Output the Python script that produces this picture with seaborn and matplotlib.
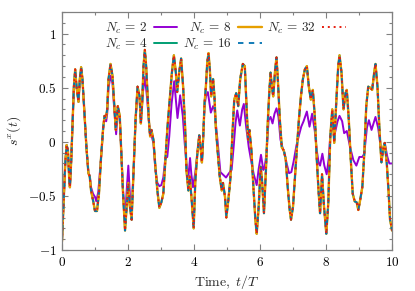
import numpy as np
import pandas as pd
import matplotlib
matplotlib.use("Agg")
import matplotlib.pyplot as plt
import seaborn as sns
from matplotlib.ticker import MultipleLocator, FuncFormatter

# s^x(t), N_c = 4 ... 32 lie on top of each other
t_conv = [0.00, 0.06, 0.10, 0.14, 0.18, 0.22, 0.24, 0.28, 0.32, 0.36,
          0.40, 0.44, 0.50, 0.54, 0.58, 0.62, 0.68, 0.74, 0.80, 0.84,
          0.88, 0.94, 1.00, 1.06, 1.12, 1.18, 1.25, 1.29, 1.33, 1.37,
          1.41, 1.47, 1.53, 1.59, 1.63, 1.69, 1.75, 1.79, 1.85, 1.91,
          1.97, 2.01, 2.05, 2.11, 2.17, 2.23, 2.29, 2.35, 2.39, 2.43,
          2.47, 2.51, 2.55, 2.59, 2.63, 2.67, 2.71, 2.77, 2.83, 2.89,
          2.95, 3.01, 3.07, 3.13, 3.19, 3.27, 3.33, 3.39, 3.45, 3.49,
          3.55, 3.61, 3.67, 3.73, 3.77, 3.83, 3.87, 3.93, 3.99, 4.04,
          4.10, 4.16, 4.20, 4.24, 4.28, 4.32, 4.36, 4.40, 4.44, 4.48,
          4.52, 4.58, 4.62, 4.66, 4.72, 4.78, 4.84, 4.88, 4.94, 4.98,
          5.04, 5.10, 5.16, 5.22, 5.28, 5.34, 5.40, 5.48, 5.54, 5.60,
          5.64, 5.68, 5.74, 5.80, 5.86, 5.90, 5.96, 6.02, 6.06, 6.12,
          6.18, 6.24, 6.28, 6.32, 6.36, 6.40, 6.46, 6.50, 6.54, 6.60,
          6.66, 6.72, 6.78, 6.84, 6.90, 6.94, 7.00, 7.06, 7.12, 7.18,
          7.24, 7.30, 7.36, 7.42, 7.48, 7.54, 7.60, 7.66, 7.72, 7.78,
          7.82, 7.88, 7.94, 8.01, 8.07, 8.13, 8.19, 8.25, 8.31, 8.37,
          8.41, 8.47, 8.53, 8.59, 8.63, 8.69, 8.75, 8.81, 8.87, 8.93,
          8.98, 9.04, 9.10, 9.16, 9.22, 9.28, 9.34, 9.40, 9.46, 9.50,
          9.56, 9.62, 9.68, 9.74, 9.78, 9.84, 9.90, 9.94, 9.98, 10.00]
s_conv = [-0.92, -0.48, -0.19, -0.03, -0.08, -0.35, -0.42, -0.17, 0.17, 0.51,
          0.67, 0.51, 0.37, 0.58, 0.69, 0.58, 0.27, -0.05, -0.29, -0.32,
          -0.45, -0.54, -0.64, -0.64, -0.48, -0.16, 0.14, 0.24, 0.22, 0.30,
          0.58, 0.72, 0.61, 0.30, 0.11, 0.33, 0.24, -0.05, -0.48, -0.82,
          -0.55, -0.38, -0.58, -0.72, -0.26, 0.21, 0.51, 0.42, 0.17, 0.36,
          0.70, 0.85, 0.70, 0.45, 0.21, 0.05, 0.11, 0.02, -0.23, -0.45,
          -0.61, -0.56, -0.48, -0.19, 0.11, 0.42, 0.64, 0.80, 0.64, 0.46,
          0.64, 0.77, 0.51, 0.14, -0.26, -0.45, -0.32, -0.54, -0.80, -0.36,
          -0.11, 0.06, -0.05, -0.19, 0.05, 0.36, 0.51, 0.73, 0.82, 0.67,
          0.42, 0.58, 0.42, 0.14, -0.10, -0.32, -0.45, -0.38, -0.51, -0.70,
          -0.54, -0.35, 0.05, 0.39, 0.45, 0.33, 0.58, 0.72, 0.70, 0.27,
          0.02, 0.11, -0.08, -0.42, -0.72, -0.85, -0.60, -0.23, -0.35, -0.66,
          -0.26, 0.21, 0.45, 0.64, 0.51, 0.42, 0.67, 0.78, 0.58, 0.21,
          -0.05, -0.08, -0.16, -0.42, -0.63, -0.72, -0.60, -0.32, -0.05, 0.21,
          0.42, 0.58, 0.67, 0.70, 0.51, 0.39, 0.48, 0.24, -0.16, -0.48,
          -0.66, -0.30, -0.60, -0.85, -0.56, 0.05, 0.30, -0.01, 0.36, 0.70,
          0.80, 0.64, 0.30, 0.45, 0.48, 0.21, -0.16, -0.48, -0.55, -0.56,
          -0.63, -0.53, -0.42, -0.11, 0.33, 0.51, 0.50, 0.48, 0.64, 0.72,
          0.51, 0.11, -0.19, -0.05, -0.01, -0.19, -0.48, -0.72, -0.78, -0.82]

# N_c = 2
t_nc2 = [0.00, 0.06, 0.10, 0.14, 0.18, 0.22, 0.24, 0.28, 0.32, 0.36,
         0.40, 0.44, 0.50, 0.54, 0.58, 0.62, 0.68, 0.74, 0.80, 0.84,
         0.88, 0.94, 1.00, 1.04, 1.10, 1.18, 1.25, 1.29, 1.34, 1.37,
         1.41, 1.47, 1.53, 1.59, 1.64, 1.70, 1.75, 1.79, 1.85, 1.91,
         1.96, 2.01, 2.06, 2.11, 2.17, 2.23, 2.29, 2.35, 2.39, 2.45,
         2.51, 2.57, 2.63, 2.67, 2.71, 2.77, 2.83, 2.89, 2.95, 3.01,
         3.07, 3.13, 3.19, 3.25, 3.32, 3.40, 3.50, 3.58, 3.66, 3.72,
         3.77, 3.83, 3.88, 3.92, 3.97, 4.04, 4.10, 4.16, 4.20, 4.24,
         4.28, 4.32, 4.36, 4.42, 4.51, 4.58, 4.62, 4.71, 4.80, 4.90,
         4.97, 5.06, 5.14, 5.20, 5.26, 5.31, 5.39, 5.46, 5.51, 5.58,
         5.66, 5.74, 5.81, 5.90, 5.96, 6.03, 6.10, 6.14, 6.20, 6.26,
         6.32, 6.38, 6.44, 6.50, 6.56, 6.62, 6.68, 6.74, 6.80, 6.88,
         6.95, 7.02, 7.10, 7.18, 7.25, 7.32, 7.42, 7.50, 7.58, 7.66,
         7.72, 7.78, 7.82, 7.89, 7.95, 8.02, 8.08, 8.13, 8.19, 8.27,
         8.35, 8.41, 8.49, 8.55, 8.63, 8.73, 8.83, 8.92, 9.01, 9.10,
         9.16, 9.24, 9.30, 9.38, 9.50, 9.58, 9.66, 9.72, 9.78, 9.86,
         9.92, 10.00]
s_nc2 = [-0.92, -0.48, -0.19, -0.03, -0.08, -0.35, -0.42, -0.17, 0.17, 0.51,
         0.65, 0.51, 0.37, 0.57, 0.67, 0.57, 0.27, -0.05, -0.29, -0.31,
         -0.42, -0.48, -0.51, -0.55, -0.46, -0.16, 0.13, 0.21, 0.19, 0.26,
         0.50, 0.61, 0.54, 0.27, 0.07, 0.31, 0.22, -0.06, -0.45, -0.72,
         -0.45, -0.22, -0.50, -0.64, -0.26, 0.20, 0.49, 0.40, 0.19, 0.45,
         0.60, 0.43, 0.21, 0.06, 0.06, -0.01, -0.26, -0.38, -0.41, -0.40,
         -0.33, -0.15, -0.14, 0.05, 0.35, 0.56, 0.22, 0.43, 0.24, -0.02,
         -0.20, -0.33, -0.15, -0.30, -0.42, -0.28, -0.11, 0.06, -0.05, -0.19,
         0.05, 0.33, 0.42, 0.46, 0.27, 0.33, 0.30, 0.02, -0.28, -0.31,
         -0.33, -0.29, -0.26, -0.05, 0.18, 0.29, 0.15, 0.30, 0.35, 0.14,
         -0.05, -0.19, -0.30, -0.40, -0.25, -0.12, -0.26, -0.24, -0.10, 0.20,
         0.23, 0.17, 0.26, 0.31, 0.23, 0.02, -0.05, -0.10, -0.19, -0.29,
         -0.28, -0.18, -0.04, 0.06, 0.14, 0.19, 0.28, 0.14, 0.26, 0.10,
         -0.08, -0.20, -0.22, -0.11, -0.22, -0.30, -0.16, 0.06, 0.13, 0.08,
         0.19, 0.24, 0.19, 0.08, 0.10, -0.05, -0.17, -0.22, -0.14, -0.14,
         -0.11, 0.13, 0.20, 0.11, 0.23, 0.13, -0.05, -0.11, -0.01, -0.14,
         -0.20, -0.20]

nc_labels = [r'$N_c\,=\,2$', r'$N_c\,=\,4$', r'$N_c\,=\,8$',
             r'$N_c\,=\,16$', r'$N_c\,=\,32$']
nc_colors = ['#9400d3', '#009e73', '#e69f00', '#0072b2', '#e51e10']

sns.set_theme(style='ticks')
plt.rcParams['mathtext.fontset'] = 'cm'
plt.rcParams['font.family'] = ['DejaVu Serif']

fig = plt.figure(figsize=(4.15, 2.91), dpi=100)
ax = fig.add_axes([62 / 415, 41 / 291, 330 / 415, 238 / 291])

df2 = pd.DataFrame({'t': t_nc2, 's': s_nc2})
dfc = pd.DataFrame({'t': t_conv, 's': s_conv})

sns.lineplot(data=df2, x='t', y='s', ax=ax, color=nc_colors[0], lw=1.4,
             label=nc_labels[0])
sns.lineplot(data=dfc, x='t', y='s', ax=ax, color=nc_colors[1], lw=1.4,
             label=nc_labels[1])
sns.lineplot(data=dfc, x='t', y='s', ax=ax, color=nc_colors[2], lw=1.7,
             label=nc_labels[2])
sns.lineplot(data=dfc, x='t', y='s', ax=ax, color=nc_colors[3], lw=1.3,
             linestyle=(0, (3, 3)), label=nc_labels[3])
sns.lineplot(data=dfc, x='t', y='s', ax=ax, color=nc_colors[4], lw=1.4,
             linestyle=(0, (1, 2)), label=nc_labels[4])

ax.set_xlim(0, 10)
ax.set_ylim(-1, 1.2)
ax.xaxis.set_major_locator(MultipleLocator(2))
ax.xaxis.set_minor_locator(MultipleLocator(1))
ax.yaxis.set_major_locator(MultipleLocator(0.5))
ax.yaxis.set_minor_locator(MultipleLocator(0.1))
ax.xaxis.set_major_formatter(FuncFormatter(lambda v, p: r'$%g$' % v))
ax.yaxis.set_major_formatter(FuncFormatter(lambda v, p: r'$%g$' % v))
ax.tick_params(which='both', direction='in', top=True, right=True,
               color='#808080', labelsize=9.5, labelcolor='black')
ax.tick_params(which='major', length=4, width=0.8, pad=4)
ax.tick_params(which='minor', length=2.2, width=0.8)
for sp in ax.spines.values():
    sp.set_color('#808080')
    sp.set_linewidth(0.9)

ax.set_xlabel(r'$\mathrm{Time,}\ t/T$', fontsize=10, labelpad=3)
ax.set_ylabel(r'$s^x(t)$', fontsize=10, labelpad=4)

ax.legend(loc='upper center', bbox_to_anchor=(0.495, 1.0), ncol=3,
          frameon=False, markerfirst=False, fontsize=9.5, handlelength=1.8,
          handletextpad=0.5, columnspacing=0.4, labelspacing=0.05,
          borderaxespad=0.25)

fig.savefig('out.png', dpi=100)
